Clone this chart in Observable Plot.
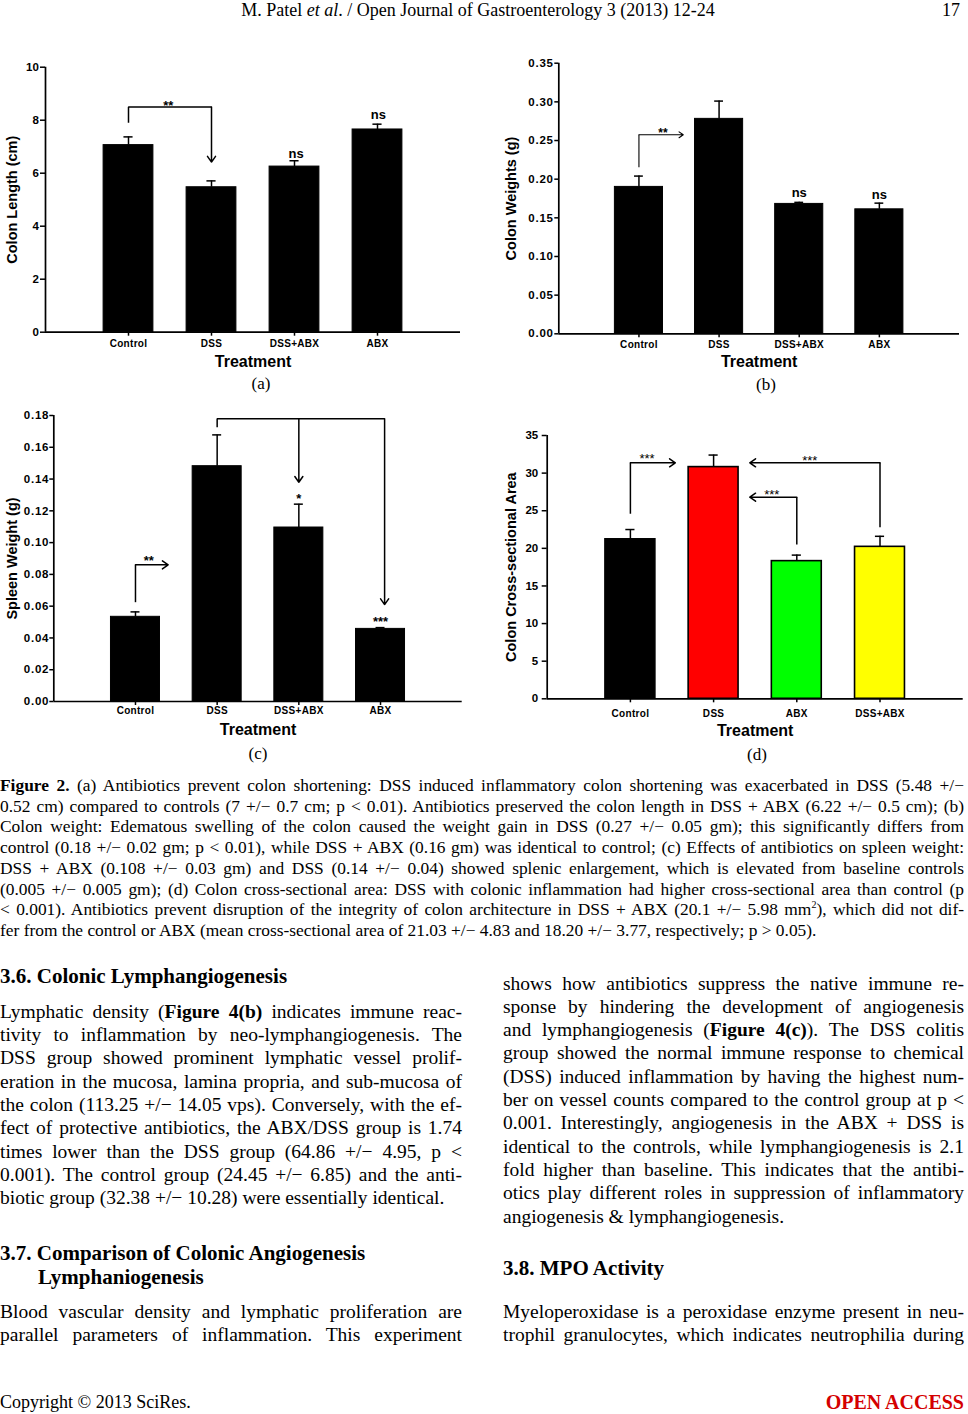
<!DOCTYPE html>
<html>
<head>
<meta charset="utf-8">
<script src="https://cdn.jsdelivr.net/npm/d3@7"></script>
<script src="https://cdn.jsdelivr.net/npm/@observablehq/plot@0.6"></script>
<style>
html,body{margin:0;padding:0;background:#fff;}
#page{position:relative;width:968px;height:1414px;overflow:hidden;background:#fff;color:#000;}
.t{position:absolute;white-space:nowrap;font-family:"Liberation Serif","Times New Roman",Times,serif;color:#000;}
.chart{position:absolute;}
.chart svg{overflow:visible;display:block;}
#chartB g[aria-label="y-axis tick label"] text,
#chartC g[aria-label="y-axis tick label"] text{letter-spacing:0.8px;}
g[aria-label="x-axis tick label"] text{letter-spacing:0.3px;}
</style>
</head>
<body>
<div id="page"></div>
<script>
// ---------------- DATA ----------------
// (a) Colon length
const catsA = ["Control", "DSS", "DSS+ABX", "ABX"];
const lengthMean = [7.06, 5.47, 6.25, 7.65];
const lengthSem = [0.31, 0.24, 0.22, 0.20];
const lengthTicks = [0, 2, 4, 6, 8, 10];
const bracketsA = [{path: [[1, 7.9], [1, 8.5], [2, 8.5]], tip: [2, 6.42]}];
const starsA = [{x: 1.48, y: 8.68, t: "**"}];
const nsA = [{x: 3.02, y: 6.73, t: "ns"}, {x: 4.01, y: 8.22, t: "ns"}];

// (b) Colon weights
const catsB = ["Control", "DSS", "DSS+ABX", "ABX"];
const weightMean = [0.190, 0.278, 0.168, 0.161];
const weightSem = [0.014, 0.023, 0.002, 0.008];
const weightTicks = [0, 0.05, 0.10, 0.15, 0.20, 0.25, 0.30, 0.35];
const bracketsB = [{path: [[1, 0.2155], [1, 0.2574]], tip: [1.553, 0.2574]}];
const starsB = [{x: 1.30, y: 0.2643, t: "**"}];
const nsB = [{x: 3.0, y: 0.1819, t: "ns"}, {x: 4.0, y: 0.1802, t: "ns"}];

// (c) Spleen weight
const catsC = ["Control", "DSS", "DSS+ABX", "ABX"];
const spleenMean = [0.0533, 0.1481, 0.1095, 0.0457];
const spleenSem = [0.0031, 0.0197, 0.0147, 0.0008];
const spleenTicks = [0, 0.02, 0.04, 0.06, 0.08, 0.10, 0.12, 0.14, 0.16, 0.18];
const bracketsC = [
  {path: [[1, 0.0625], [1, 0.086]], tip: [1.40, 0.086]},
  {path: [[2, 0.1726], [2, 0.1779], [4.05, 0.1779]], tip: [4.05, 0.061]},
  {path: [[3, 0.1779]], tip: [3, 0.138]}
];
const starsC = [{x: 1.163, y: 0.0906, t: "**"}, {x: 3.0, y: 0.1297, t: "*"}, {x: 4.0, y: 0.0522, t: "***"}];

// (d) Colon cross-sectional area
const catsD = ["Control", "DSS", "ABX", "DSS+ABX"];
const areaMean = [21.2, 30.8, 18.3, 20.2];
const areaSem = [1.3, 1.6, 0.8, 1.4];
const areaTicks = [0, 5, 10, 15, 20, 25, 30, 35];
const areaColors = ["#000000", "#ff0000", "#00ff00", "#ffff00"];
const bracketsD = [
  {path: [[1, 24.6], [1, 31.37]], tip: [1.54, 31.37]},
  {path: [[4, 22.81], [4, 31.37]], tip: [2.435, 31.37]},
  {path: [[3, 20.51], [3, 26.8]], tip: [2.435, 26.8]}
];
const starsD = [{x: 1.20, y: 32.43, t: "***"}, {x: 3.156, y: 32.1, t: "***"}, {x: 2.70, y: 27.6, t: "***"}];

// ---------------- TEXT ----------------
const headerText = "M. Patel <i>et al</i>. / Open Journal of Gastroenterology 3 (2013) 12-24";
const pageNumber = "17";
const panelLabels = ["(a)", "(b)", "(c)", "(d)"];
const captionLines = [
  "<b>Figure 2.</b> (a) Antibiotics prevent colon shortening: DSS induced inflammatory colon shortening was exacerbated in DSS (5.48 +/−",
  "0.52 cm) compared to controls (7 +/− 0.7 cm; p &lt; 0.01). Antibiotics preserved the colon length in DSS + ABX (6.22 +/− 0.5 cm); (b)",
  "Colon weight: Edematous swelling of the colon caused the weight gain in DSS (0.27 +/− 0.05 gm); this significantly differs from",
  "control (0.18 +/− 0.02 gm; p &lt; 0.01), while DSS + ABX (0.16 gm) was identical to control; (c) Effects of antibiotics on spleen weight:",
  "DSS + ABX (0.108 +/− 0.03 gm) and DSS (0.14 +/− 0.04) showed splenic enlargement, which is elevated from baseline controls",
  "(0.005 +/− 0.005 gm); (d) Colon cross-sectional area: DSS with colonic inflammation had higher cross-sectional area than control (p",
  "&lt; 0.001). Antibiotics prevent disruption of the integrity of colon architecture in DSS + ABX (20.1 +/− 5.98 mm<sup style=\"font-size:10px;line-height:0;vertical-align:7px\">2</sup>), which did not dif-",
  "fer from the control or ABX (mean cross-sectional area of 21.03 +/− 4.83 and 18.20 +/− 3.77, respectively; p &gt; 0.05)."
];
const heading36 = "3.6. Colonic Lymphangiogenesis";
const leftLines = [
  "Lymphatic density (<b>Figure 4(b)</b> indicates immune reac-",
  "tivity to inflammation by neo-lymphangiogenesis. The",
  "DSS group showed prominent lymphatic vessel prolif-",
  "eration in the mucosa, lamina propria, and sub-mucosa of",
  "the colon (113.25 +/− 14.05 vps). Conversely, with the ef-",
  "fect of protective antibiotics, the ABX/DSS group is 1.74",
  "times lower than the DSS group (64.86 +/− 4.95, p &lt;",
  "0.001). The control group (24.45 +/− 6.85) and the anti-",
  "biotic group (32.38 +/− 10.28) were essentially identical."
];
const heading37 = ["3.7. Comparison of Colonic Angiogenesis", "Lymphaniogenesis"];
const leftLines2 = [
  "Blood vascular density and lymphatic proliferation are",
  "parallel parameters of inflammation. This experiment"
];
const rightLines = [
  "shows how antibiotics suppress the native immune re-",
  "sponse by hindering the development of angiogenesis",
  "and lymphangiogenesis (<b>Figure 4(c)</b>). The DSS colitis",
  "group showed the normal immune response to chemical",
  "(DSS) induced inflammation by having the highest num-",
  "ber on vessel counts compared to the control group at p &lt;",
  "0.001. Interestingly, angiogenesis in the ABX + DSS is",
  "identical to the controls, while lymphangiogenesis is 2.1",
  "fold higher than baseline. This indicates that the antibi-",
  "otics play different roles in suppression of inflammatory",
  "angiogenesis &amp; lymphangiogenesis."
];
const heading38 = "3.8. MPO Activity";
const rightLines2 = [
  "Myeloperoxidase is a peroxidase enzyme present in neu-",
  "trophil granulocytes, which indicates neutrophilia during"
];
const footerLeft = "Copyright © 2013 SciRes.";
const footerRight = "OPEN ACCESS";

// ---------------- LAYOUT ----------------
const page = document.getElementById("page");

function addText(html, o) {
  const d = document.createElement("div");
  d.className = "t";
  const lh = o.lh || Math.round(o.size * 1.2);
  d.style.left = (o.x || 0) + "px";
  d.style.top = (o.y - lh / 2) + "px";
  d.style.fontSize = o.size + "px";
  d.style.lineHeight = lh + "px";
  d.style.fontWeight = o.bold ? "bold" : "normal";
  if (o.color) d.style.color = o.color;
  if (o.w != null) d.style.width = o.w + "px";
  if (o.align) d.style.textAlign = o.align;
  if (o.justify) { d.style.textAlign = "justify"; d.style.textAlignLast = "justify"; }
  d.innerHTML = html;
  page.appendChild(d);
}

function addBlock(lines, o) {
  lines.forEach((s, k) => {
    const last = k === lines.length - 1;
    addText(s, {x: o.x, y: o.y + k * o.step, w: o.w, size: o.size, lh: o.lh,
      justify: !(last && o.lastLeft)});
  });
}

function drawChart(cfg) {
  const rows = cfg.cats.map((c, k) => ({
    cat: c, pos: k + 1, mean: cfg.means[k], top: cfg.means[k] + cfg.sems[k],
    fill: cfg.fills ? cfg.fills[k] : "#000000"
  }));
  const bw = cfg.bracketWidth || 1.5;
  const marks = [
    Plot.rect(rows, {x1: d => d.pos - 0.3, x2: d => d.pos + 0.3, y1: 0, y2: "mean",
      fill: "fill", stroke: "#000", strokeWidth: cfg.barStroke || 1}),
    Plot.ruleX(rows, {x: "pos", y1: "mean", y2: "top", stroke: "#000", strokeWidth: 1.5}),
    Plot.ruleY(rows, {y: "top", x1: d => d.pos - 0.055, x2: d => d.pos + 0.055, stroke: "#000", strokeWidth: 1.5}),
    Plot.ruleY([0], {stroke: "#000", strokeWidth: 1.7}),
    Plot.ruleX([0], {stroke: "#000", strokeWidth: 1.7}),
    Plot.axisY({ticks: cfg.yticks, tickFormat: cfg.yfmt, tickSize: cfg.yTickSize, tickPadding: cfg.yTickPad,
      strokeWidth: 1.5, fontWeight: "bold", fontSize: 11.5, label: null}),
    Plot.axisX({ticks: [1, 2, 3, 4], tickFormat: p => cfg.cats[p - 1], tickSize: 4, tickPadding: cfg.xTickPad,
      strokeWidth: 1.5, fontWeight: "bold", fontSize: 10, label: null}),
    Plot.text([cfg.ylabel], {text: d => d, frameAnchor: "left", textAnchor: "middle", lineAnchor: "middle",
      dx: -cfg.ylabDx, rotate: -90, fontWeight: "bold", fontSize: 14.5, fill: "#000"}),
    Plot.text(["Treatment"], {text: d => d, frameAnchor: "bottom", textAnchor: "middle", lineAnchor: "middle",
      dy: cfg.xlabDy, fontWeight: "bold", fontSize: 16, fill: "#000"})
  ];
  for (const b of cfg.brackets) {
    const pts = b.path.map(([x, y]) => ({x, y}));
    if (pts.length > 1) marks.push(Plot.line(pts, {x: "x", y: "y", stroke: "#000", strokeWidth: bw,
      strokeLinejoin: "miter", strokeLinecap: "butt"}));
    const s = b.path[b.path.length - 1];
    marks.push(Plot.arrow([{x1: s[0], y1: s[1], x2: b.tip[0], y2: b.tip[1]}],
      {x1: "x1", y1: "y1", x2: "x2", y2: "y2", stroke: "#000", strokeWidth: bw, headLength: 7, headAngle: 70}));
  }
  marks.push(Plot.text(cfg.stars, {x: "x", y: "y", text: "t", dy: 3.5,
    fontWeight: cfg.starWeight || "bold", fontSize: cfg.starSize || 13, fill: "#000"}));
  if (cfg.ns) marks.push(Plot.text(cfg.ns, {x: "x", y: "y", text: "t",
    fontWeight: "bold", fontSize: 13, fill: "#000"}));

  const svg = Plot.plot({
    width: cfg.width, height: cfg.height,
    marginLeft: cfg.mL, marginRight: cfg.mR, marginTop: cfg.mT, marginBottom: cfg.mB,
    x: {domain: [0, 5]},
    y: {domain: [0, cfg.ymax]},
    color: {type: "identity"},
    style: {fontFamily: "'Liberation Sans', Arial, Helvetica, sans-serif", fontSize: "10px",
      color: "#000", background: "transparent", overflow: "visible"},
    marks
  });
  const div = document.createElement("div");
  div.className = "chart";
  div.id = cfg.id;
  div.style.left = cfg.left + "px";
  div.style.top = cfg.top + "px";
  div.style.width = cfg.width + "px";
  div.style.height = cfg.height + "px";
  div.appendChild(svg);
  page.appendChild(div);
}

const fmtInt = d3.format("d");
const fmt2 = d3.format(".2f");

drawChart({id: "chartA", left: 0, top: 50, width: 470, height: 330, mL: 45, mR: 10, mT: 16.7, mB: 48.3,
  cats: catsA, means: lengthMean, sems: lengthSem, ymax: 10, yticks: lengthTicks, yfmt: fmtInt,
  ylabel: "Colon Length (cm)", ylabDx: 33, xlabDy: 30, xTickPad: 3.8, yTickSize: 5, yTickPad: 1.7,
  brackets: bracketsA, stars: starsA, ns: nsA});

drawChart({id: "chartB", left: 490, top: 50, width: 478, height: 330, mL: 68.3, mR: 9, mT: 12.7, mB: 46.7,
  cats: catsB, means: weightMean, sems: weightSem, ymax: 0.35, yticks: weightTicks, yfmt: fmt2,
  ylabel: "Colon Weights (g)", ylabDx: 47.6, xlabDy: 28.4, xTickPad: 3.2, yTickSize: 4, yTickPad: 1,
  brackets: bracketsB, stars: starsB, ns: nsB, bracketWidth: 1.1, starSize: 12});

drawChart({id: "chartC", left: 0, top: 400, width: 470, height: 345, mL: 53.3, mR: 8.3, mT: 15, mB: 44,
  cats: catsC, means: spleenMean, sems: spleenSem, ymax: 0.18, yticks: spleenTicks, yfmt: fmt2,
  ylabel: "Spleen Weight (g)", ylabDx: 41.6, xlabDy: 28, xTickPad: 1.8, yTickSize: 4, yTickPad: 0.5,
  brackets: bracketsC, stars: starsC});

drawChart({id: "chartD", left: 490, top: 420, width: 478, height: 330, mL: 56.7, mR: 5.3, mT: 15, mB: 51.7,
  cats: catsD, means: areaMean, sems: areaSem, ymax: 35, yticks: areaTicks, yfmt: fmtInt, fills: areaColors,
  ylabel: "Colon Cross-sectional Area", ylabDx: 36, xlabDy: 31.7, xTickPad: 7.5, yTickSize: 5, yTickPad: 4,
  brackets: bracketsD, stars: starsD, starWeight: "normal", starSize: 13, barStroke: 1.6});

// header / footer
addText(headerText, {x: 0, y: 10, w: 956, size: 18, lh: 22, align: "center"});
addText(pageNumber, {x: 900, y: 10, w: 960 - 900, size: 18, lh: 22, align: "right"});

// panel labels
[[261, 384], [766, 385], [258, 754], [757, 755]].forEach(([cx, cy], k) =>
  addText(panelLabels[k], {x: cx - 30, y: cy, w: 60, size: 17, lh: 20, align: "center"}));

// caption
addBlock(captionLines, {x: 0, y: 785, step: 20.7, w: 964, size: 17.4, lh: 20, lastLeft: true});

// left column
addText(heading36, {x: 0, y: 976, size: 21, lh: 24, bold: true});
addBlock(leftLines, {x: 0, y: 1011.7, step: 23.3, w: 462, size: 19.5, lh: 22, lastLeft: true});
addText(heading37[0], {x: 0, y: 1253, size: 21, lh: 24, bold: true});
addText(heading37[1], {x: 38, y: 1277, size: 21, lh: 24, bold: true});
addBlock(leftLines2, {x: 0, y: 1312, step: 23.3, w: 462, size: 19.5, lh: 22, lastLeft: false});

// right column
addBlock(rightLines, {x: 503, y: 983.5, step: 23.3, w: 461, size: 19.5, lh: 22, lastLeft: true});
addText(heading38, {x: 503, y: 1268, size: 21, lh: 24, bold: true});
addBlock(rightLines2, {x: 503, y: 1312, step: 23.3, w: 461, size: 19.5, lh: 22, lastLeft: false});

// footer
addText(footerLeft, {x: 0, y: 1402, size: 18, lh: 22});
addText(footerRight, {x: 764, y: 1402, w: 200, size: 20, lh: 24, bold: true, align: "right", color: "#d40000"});
</script>
</body>
</html>
